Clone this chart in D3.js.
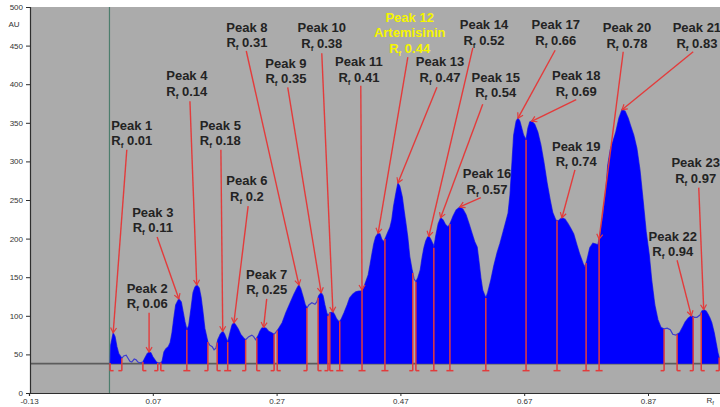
<!DOCTYPE html>
<html>
<head>
<meta charset="utf-8">
<script src="https://cdn.jsdelivr.net/npm/d3@7"></script>
<style>
  html, body { margin: 0; padding: 0; background: #ffffff; }
  svg { display: block; }
</style>
</head>
<body>
<svg id="chart" width="720" height="407"></svg>
<script>
// Densitogram scan: [Rf, AU]
const trace = [
  [0.000, 38], [0.001, 39], [0.002, 62], [0.006, 78], [0.009, 73], [0.012, 60], [0.015, 51],
  [0.020, 45], [0.023, 48], [0.027, 49], [0.030, 45], [0.033, 41], [0.036, 40], [0.040, 44],
  [0.043, 43], [0.046, 40], [0.049, 39], [0.054, 40], [0.057, 45], [0.061, 51], [0.064, 53],
  [0.067, 52], [0.070, 47], [0.075, 41], [0.078, 39], [0.082, 39], [0.085, 41], [0.088, 53],
  [0.091, 57], [0.095, 60], [0.098, 65], [0.101, 78], [0.104, 97], [0.107, 114], [0.112, 122],
  [0.116, 118], [0.119, 105], [0.122, 92], [0.125, 82], [0.128, 87], [0.132, 111], [0.135, 130],
  [0.138, 137], [0.141, 140], [0.145, 136], [0.148, 124], [0.151, 105], [0.154, 84], [0.159, 66],
  [0.162, 62], [0.166, 60], [0.169, 56], [0.172, 58], [0.175, 69], [0.179, 76], [0.183, 80],
  [0.186, 76], [0.191, 66], [0.195, 79], [0.198, 88], [0.201, 91], [0.204, 88], [0.208, 83],
  [0.212, 76], [0.217, 71], [0.220, 69], [0.225, 73], [0.230, 75], [0.233, 73], [0.236, 69],
  [0.240, 74], [0.243, 80], [0.246, 84], [0.249, 85], [0.253, 84], [0.257, 80], [0.262, 78],
  [0.266, 76], [0.269, 79], [0.272, 82], [0.279, 91], [0.285, 104], [0.292, 117], [0.298, 128],
  [0.303, 136], [0.306, 140], [0.309, 135], [0.313, 124], [0.316, 115], [0.319, 110], [0.322, 114],
  [0.327, 117], [0.332, 115], [0.335, 118], [0.338, 126], [0.342, 130], [0.345, 126], [0.348, 114],
  [0.351, 104], [0.353, 100], [0.356, 104], [0.361, 105], [0.364, 101], [0.367, 96], [0.371, 92],
  [0.374, 95], [0.379, 104], [0.384, 114], [0.388, 123], [0.393, 128], [0.398, 131], [0.403, 132],
  [0.406, 132], [0.410, 135], [0.414, 144], [0.418, 153], [0.421, 166], [0.424, 180], [0.427, 193],
  [0.430, 202], [0.434, 207], [0.437, 206], [0.440, 199], [0.443, 196], [0.446, 201], [0.450, 209],
  [0.453, 214], [0.456, 224], [0.459, 242], [0.463, 260], [0.466, 272], [0.469, 268], [0.473, 254],
  [0.476, 236], [0.479, 219], [0.482, 201], [0.485, 177], [0.489, 159], [0.492, 148], [0.495, 144],
  [0.498, 149], [0.502, 159], [0.505, 175], [0.508, 188], [0.511, 197], [0.514, 202], [0.516, 203],
  [0.519, 199], [0.523, 192], [0.524, 188], [0.527, 203], [0.531, 219], [0.535, 227], [0.539, 224],
  [0.543, 218], [0.547, 215], [0.550, 219], [0.555, 229], [0.560, 237], [0.566, 241], [0.571, 238],
  [0.576, 231], [0.581, 219], [0.586, 206], [0.590, 196], [0.594, 189], [0.597, 170], [0.600, 149],
  [0.603, 133], [0.608, 123], [0.611, 130], [0.616, 146], [0.621, 165], [0.626, 181], [0.631, 194],
  [0.636, 209], [0.641, 224], [0.644, 233], [0.647, 256], [0.650, 295], [0.653, 334], [0.657, 352],
  [0.660, 356], [0.663, 352], [0.666, 343], [0.669, 334], [0.673, 328], [0.676, 343], [0.679, 351],
  [0.682, 352], [0.687, 348], [0.692, 338], [0.697, 321], [0.702, 298], [0.707, 272], [0.712, 250],
  [0.716, 234], [0.721, 224], [0.725, 223], [0.728, 225], [0.731, 227], [0.736, 225], [0.741, 219],
  [0.746, 212], [0.750, 206], [0.755, 192], [0.760, 179], [0.765, 168], [0.768, 163], [0.771, 171],
  [0.776, 188], [0.781, 194], [0.786, 193], [0.789, 192], [0.792, 203], [0.797, 228], [0.802, 263],
  [0.805, 295], [0.809, 315], [0.813, 325], [0.818, 338], [0.823, 356], [0.828, 367], [0.833, 365],
  [0.838, 356], [0.842, 346], [0.847, 334], [0.852, 317], [0.857, 289], [0.862, 250], [0.867, 209],
  [0.872, 179], [0.876, 146], [0.881, 114], [0.886, 95], [0.891, 85], [0.896, 83], [0.901, 84],
  [0.906, 82], [0.910, 76], [0.915, 75], [0.921, 78], [0.925, 84], [0.930, 92], [0.935, 97],
  [0.940, 100], [0.945, 98], [0.949, 98], [0.954, 101], [0.957, 106], [0.960, 108], [0.964, 106],
  [0.967, 102], [0.970, 97], [0.973, 91], [0.977, 78], [0.980, 65], [0.983, 52], [0.986, 43]
];

const baselineAU = 38;
const applicationRf = 0;

// Integrated peak windows (Rf)
const peakStart = [0.001, 0.054, 0.083, 0.125, 0.174, 0.191, 0.238, 0.271, 0.337, 0.356, 0.372, 0.408,
                   0.445, 0.495, 0.524, 0.550, 0.608, 0.673, 0.723, 0.770, 0.791, 0.917, 0.956];
const peakEnd   = [0.020, 0.078, 0.125, 0.159, 0.191, 0.220, 0.266, 0.319, 0.353, 0.372, 0.408, 0.445,
                   0.490, 0.524, 0.550, 0.608, 0.673, 0.723, 0.770, 0.791, 0.896, 0.943, 0.985];

const peakNames = d3.range(1, 24).map(n => "Peak " + n);
const peakRf = ["0.01", "0.06", "0.11", "0.14", "0.18", "0.2", "0.25", "0.31", "0.35", "0.38", "0.41", "0.44",
                "0.47", "0.52", "0.54", "0.57", "0.66", "0.69", "0.74", "0.78", "0.83", "0.94", "0.97"];
const peakCompound = ["", "", "", "", "", "", "", "", "", "", "", "Artemisinin",
                      "", "", "", "", "", "", "", "", "", "", ""];

const yTicks = [0, 50, 100, 150, 200, 250, 300, 350, 400, 450, 500];
const xTicks = [-0.13, 0.07, 0.27, 0.47, 0.67, 0.87];

// Annotation layout in chart units [Rf, AU]: label centre and leader start
const labelAt = [
  [0.036, 347], [0.061, 136], [0.070, 234], [0.125, 411], [0.179, 347], [0.222, 275], [0.254, 154],
  [0.222, 474], [0.285, 427], [0.343, 473], [0.403, 429], [0.485, 487], [0.534, 429], [0.605, 477],
  [0.624, 409], [0.610, 284], [0.721, 477], [0.754, 411], [0.754, 320], [0.836, 473], [0.949, 473],
  [0.910, 203], [0.947, 298]
];
const leaderFrom = [
  [0.028, 315], [0.064, 104], [0.077, 202], [0.130, 378], [0.180, 315], [0.224, 242], [0.254, 122],
  [0.221, 443], [0.288, 396], [0.343, 440], [0.406, 398], [0.482, 435], [0.529, 396], [0.587, 447],
  [0.603, 374], [0.600, 253], [0.720, 444], [0.754, 380], [0.752, 289], [0.830, 442], [0.943, 442],
  [0.917, 172], [0.952, 266]
];

const W = 720, H = 407;
const x = d3.scaleLinear().domain([-0.13, 1.07]).range([29, 29 + 1.2 * 619]);
const y = d3.scaleLinear().domain([0, 500]).range([393, 7]);

const svg = d3.select("#chart");
const plotLeft = 30, plotTop = y(500), plotBottom = y(0);

// value of the scan at any Rf (linear between readings)
const bis = d3.bisector(d => d[0]).left;
function valueAt(r) {
  const i = bis(trace, r);
  if (i <= 0) return trace[0][1];
  if (i >= trace.length) return trace[trace.length - 1][1];
  const a = trace[i - 1], b = trace[i];
  const t = (r - a[0]) / (b[0] - a[0]);
  return a[1] + t * (b[1] - a[1]);
}

// plot background
svg.append("rect")
  .attr("x", plotLeft).attr("y", plotTop)
  .attr("width", W - plotLeft).attr("height", plotBottom - plotTop)
  .attr("fill", "#ababab");

// application line
svg.append("line")
  .attr("x1", x(applicationRf)).attr("x2", x(applicationRf))
  .attr("y1", plotTop).attr("y2", plotBottom)
  .attr("stroke", "#4d7d6d").attr("stroke-width", 1.2);

// baseline
svg.append("line")
  .attr("x1", plotLeft).attr("x2", W)
  .attr("y1", y(baselineAU)).attr("y2", y(baselineAU))
  .attr("stroke", "#5c5c5c").attr("stroke-width", 1.6);

// scan outline (visible between integrated windows)
const line = d3.line().x(d => x(d[0])).y(d => y(d[1]));
svg.append("path")
  .datum(trace.filter(d => d[0] >= applicationRf))
  .attr("d", line)
  .attr("fill", "none")
  .attr("stroke", "#3d3dcf")
  .attr("stroke-width", 1.2);

// integrated peak areas
const area = d3.area().x(d => x(d[0])).y0(y(baselineAU)).y1(d => y(d[1]));
const windows = peakStart.map((s, i) => {
  const e = peakEnd[i];
  const pts = [[s, valueAt(s)]]
    .concat(trace.filter(d => d[0] > s && d[0] < e))
    .concat([[e, valueAt(e)]]);
  const top = pts.reduce((m, d) => (d[1] > m[1] ? d : m), pts[0]);
  return { i, s, e, pts, top };
});

svg.append("g").selectAll("path")
  .data(windows)
  .join("path")
  .attr("d", d => area(d.pts))
  .attr("fill", "#0000fe");

// window boundary markers
const red = "#e33b3b";
const marks = new Map();
windows.forEach(w => {
  const a = marks.get(w.s) || { r: w.s, left: false, right: false };
  a.right = true; marks.set(w.s, a);
  const b = marks.get(w.e) || { r: w.e, left: false, right: false };
  b.left = true; marks.set(w.e, b);
});
const footY = y(baselineAU) + 7;
const mg = svg.append("g").attr("stroke", red).attr("stroke-width", 1.5).attr("fill", "none");
Array.from(marks.values()).forEach(m => {
  const px = x(m.r);
  mg.append("line").attr("x1", px).attr("x2", px).attr("y1", footY).attr("y2", y(valueAt(m.r)));
  mg.append("line")
    .attr("x1", m.left ? px - 3.5 : px).attr("x2", m.right ? px + 3.5 : px)
    .attr("y1", footY).attr("y2", footY);
});

// leaders
svg.append("defs").append("marker")
  .attr("id", "tip").attr("viewBox", "-6 -4 7 8")
  .attr("refX", 0).attr("refY", 0)
  .attr("markerWidth", 7).attr("markerHeight", 8)
  .attr("markerUnits", "userSpaceOnUse")
  .attr("orient", "auto")
  .append("path").attr("d", "M-5,-3L0,0L-5,3")
  .attr("fill", "none").attr("stroke", red).attr("stroke-width", 1.2);

svg.append("g").selectAll("line")
  .data(windows)
  .join("line")
  .attr("x1", d => x(leaderFrom[d.i][0])).attr("y1", d => y(leaderFrom[d.i][1]))
  .attr("x2", d => x(d.top[0])).attr("y2", d => y(d.top[1]))
  .attr("stroke", red).attr("stroke-width", 1.4)
  .attr("marker-end", "url(#tip)");

// peak labels
const step = 15.5;
const lg = svg.append("g")
  .attr("font-family", "'Liberation Sans', Arial, sans-serif")
  .attr("font-weight", "bold")
  .attr("font-size", 13)
  .attr("text-anchor", "middle");

windows.forEach(w => {
  const i = w.i;
  const cx = x(labelAt[i][0]), cy = y(labelAt[i][1]);
  const colour = peakCompound[i] ? "#f5f500" : "#232323";
  const lines = [peakNames[i]];
  if (peakCompound[i]) lines.push(peakCompound[i]);
  lines.forEach((t, k) => {
    lg.append("text").attr("x", cx).attr("y", cy + k * step).attr("dy", "0.35em")
      .attr("fill", colour).text(t);
  });
  const rt = lg.append("text").attr("x", cx).attr("y", cy + lines.length * step).attr("dy", "0.35em")
    .attr("fill", colour);
  rt.append("tspan").text("R");
  rt.append("tspan").attr("font-size", 8).attr("dy", 3).text("f");
  rt.append("tspan").attr("dy", -3).text(" " + peakRf[i]);
});

// axes
const axisFont = "'Liberation Sans', Arial, sans-serif";
const yAxis = svg.append("g")
  .attr("transform", `translate(${plotLeft},0)`)
  .call(d3.axisLeft(y).tickValues(yTicks).tickSize(4).tickPadding(3).tickFormat(d3.format("d")));
const xAxis = svg.append("g")
  .attr("transform", `translate(0,${plotBottom})`)
  .call(d3.axisBottom(x).tickValues(xTicks).tickSize(3).tickPadding(2).tickFormat(d => d.toFixed(2)));
[yAxis, xAxis].forEach(g => {
  g.select(".domain").attr("stroke", "#2e2e2e").attr("stroke-width", 1.2);
  g.selectAll(".tick line").attr("stroke", "#2e2e2e");
  g.selectAll(".tick text").attr("fill", "#333").attr("font-size", 8).attr("font-family", axisFont);
});

svg.append("text")
  .attr("x", 14).attr("y", y(478)).attr("dy", "0.35em")
  .attr("text-anchor", "middle")
  .attr("font-size", 8).attr("font-family", axisFont).attr("fill", "#333")
  .text("AU");

// x-axis title, tucked against the right edge
const ax = svg.append("text")
  .attr("x", 714).attr("y", plotBottom + 10)
  .attr("text-anchor", "end")
  .attr("font-size", 8).attr("font-family", axisFont).attr("fill", "#333");
ax.append("tspan").text("R");
ax.append("tspan").attr("font-size", 6).attr("dy", 1.5).text("f");
</script>
</body>
</html>
